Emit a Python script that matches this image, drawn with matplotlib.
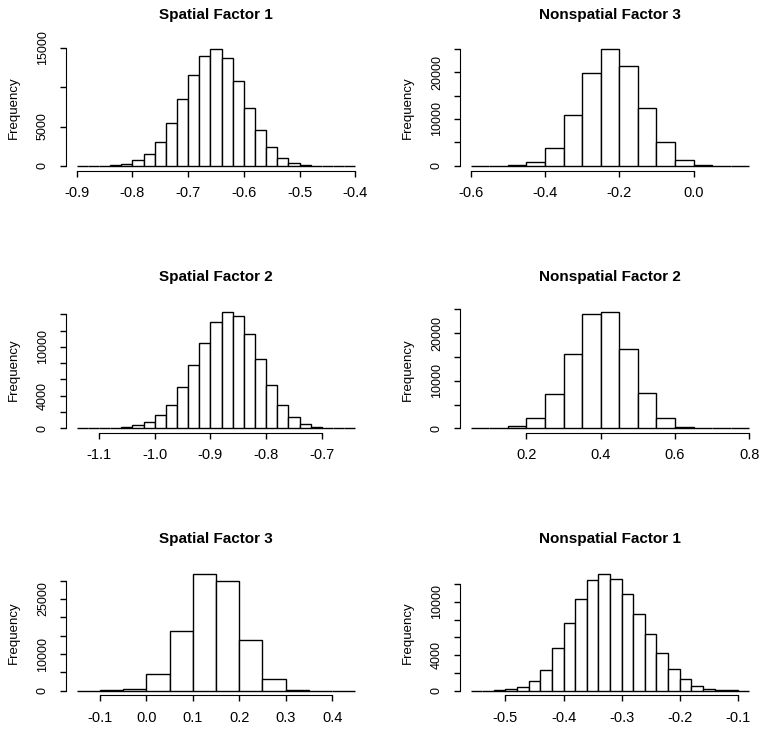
import numpy as np
import matplotlib
matplotlib.use("Agg")
import matplotlib.pyplot as plt

plt.rcParams["font.family"] = ["Liberation Sans", "DejaVu Sans"]
plt.rcParams["axes.unicode_minus"] = False

# histogram counts (bin start, bin width, counts)
sf1_start, sf1_width = -0.90, 0.02
sf1_counts = [0, 0, 50, 150, 300, 700, 1500, 3000, 5400, 8500, 11500, 13950,
              14800, 13700, 10800, 7400, 4500, 2400, 1050, 350, 150, 50, 0, 0, 0]

nf3_start, nf3_width = -0.60, 0.05
nf3_counts = [0, 20, 150, 900, 3900, 10900, 19700, 24850, 21200, 12300,
              5050, 1350, 300, 50, 0]

sf2_start, sf2_width = -1.14, 0.02
sf2_counts = [0, 0, 10, 60, 150, 370, 740, 1600, 2860, 5020, 7800, 10500,
              13100, 14320, 13750, 11550, 8450, 5300, 2860, 1430, 530, 200,
              80, 20, 0]

nf2_start, nf2_width = 0.05, 0.05
nf2_counts = [0, 60, 500, 2100, 7200, 15600, 23950, 24500, 16600, 7450,
              2230, 350, 100, 20, 0]

sf3_start, sf3_width = -0.15, 0.05
sf3_counts = [0, 80, 550, 4450, 16350, 31800, 29900, 13700, 3100, 270, 30, 0]

nf1_start, nf1_width = -0.56, 0.02
nf1_counts = [0, 10, 40, 150, 380, 1050, 2370, 4850, 7670, 10300, 12400,
              13120, 12600, 10830, 8680, 6430, 4210, 2480, 1280, 560, 230,
              110, 40, 10]

titles = ["Spatial Factor 1", "Nonspatial Factor 3", "Spatial Factor 2",
          "Nonspatial Factor 2", "Spatial Factor 3", "Nonspatial Factor 1"]

x_ticks = [[-0.9, -0.8, -0.7, -0.6, -0.5, -0.4],
           [-0.6, -0.4, -0.2, 0.0],
           [-1.1, -1.0, -0.9, -0.8, -0.7],
           [0.2, 0.4, 0.6, 0.8],
           [-0.1, 0.0, 0.1, 0.2, 0.3, 0.4],
           [-0.5, -0.4, -0.3, -0.2, -0.1]]

y_ticks = [[0, 5000, 10000, 15000],
           [0, 5000, 10000, 15000, 20000, 25000],
           [0, 2000, 4000, 6000, 8000, 10000, 12000, 14000],
           [0, 5000, 10000, 15000, 20000, 25000],
           [0, 5000, 10000, 15000, 20000, 25000, 30000],
           [0, 2000, 4000, 6000, 8000, 10000, 12000]]
y_labels = [["0", "5000", "", "15000"],
            ["0", "", "10000", "", "20000", ""],
            ["0", "", "4000", "", "", "10000", "", ""],
            ["0", "", "10000", "", "20000", ""],
            ["0", "", "10000", "", "", "25000", ""],
            ["0", "", "4000", "", "", "10000", ""]]

panels = [(sf1_start, sf1_width, sf1_counts), (nf3_start, nf3_width, nf3_counts),
          (sf2_start, sf2_width, sf2_counts), (nf2_start, nf2_width, nf2_counts),
          (sf3_start, sf3_width, sf3_counts), (nf1_start, nf1_width, nf1_counts)]

W, H = 767, 732
fig = plt.figure(figsize=(W / 100, H / 100), dpi=100)

col_left = [65.5, 459.5]
row_top = [44.6, 307.0, 569.4]
pw, ph = 301.0, 126.0

for i, (start, width, counts) in enumerate(panels):
    r, c = divmod(i, 2)
    ax = fig.add_axes([col_left[c] / W, 1 - (row_top[r] + ph) / H, pw / W, ph / H])
    n = len(counts)
    edges = np.round(start + width * np.arange(n + 1), 4)
    ax.hist(edges[:-1] + width / 2, bins=edges, weights=counts,
            color="white", edgecolor="black", linewidth=1.0)
    lo, hi = edges[0], edges[-1]
    pad = 0.04 * (hi - lo)
    ax.set_xlim(lo - pad, hi + pad)
    ymax = max(counts)
    ax.set_ylim(-0.04 * ymax, 1.04 * ymax)

    ax.spines["top"].set_visible(False)
    ax.spines["right"].set_visible(False)
    ax.spines["bottom"].set_bounds(x_ticks[i][0], x_ticks[i][-1])
    ax.spines["left"].set_bounds(y_ticks[i][0], y_ticks[i][-1])
    ax.set_xticks(x_ticks[i])
    ax.set_xticklabels([f"{v:.1f}" for v in x_ticks[i]], fontsize=10.5)
    ax.set_yticks(y_ticks[i])
    ax.set_yticklabels(y_labels[i], rotation=90, va="center", fontsize=9)
    ax.tick_params(axis="both", direction="out", length=4.5, width=1.0)
    ax.tick_params(axis="x", pad=6.5)
    ax.tick_params(axis="y", pad=7.5)
    ax.set_facecolor("white")

    ax.text(0.5, 1 + 30 / ph, titles[i], transform=ax.transAxes,
            ha="center", va="center", fontsize=11, fontweight="bold")
    fig.text((col_left[c] - 51.5) / W, 1 - (row_top[r] + ph / 2) / H,
             "Frequency", rotation=90, ha="center", va="center", fontsize=9.5)

fig.savefig("out.png", dpi=100)
